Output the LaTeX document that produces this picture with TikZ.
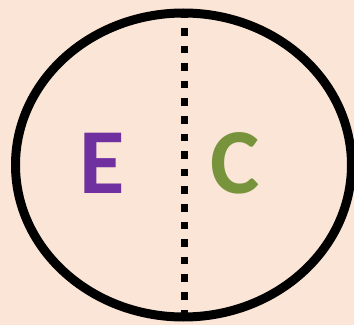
\documentclass[tikz,border=0pt]{standalone}
\usepackage{fontspec}
\setmainfont{Carlito}
\usepackage{xcolor}
\usepackage{tikz}
\definecolor{peachbg}{HTML}{FBE5D6}
\definecolor{letterpurple}{HTML}{7030A0}
\definecolor{lettergreen}{HTML}{77933C}

\begin{document}
\begin{tikzpicture}[x=1pt, y=1pt]
    \fill[peachbg] (0,0) rectangle (354,325);
    \useasboundingbox (0,0) rectangle (354,325);
    \draw[line width=9pt] (183.5,160) ellipse [x radius=168, y radius=152];
    \coordinate (top) at (184.5,314.6);
    \coordinate (bottom) at (184.5,0);
    \draw[line width=7.5pt, dash pattern=on 7.6pt off 10pt] (top) -- (bottom);
    \node[anchor=base, inner sep=0pt, font=\fontsize{93}{93}\selectfont\bfseries\color{letterpurple}] (e) at (102,132) {E};
    \node[anchor=base, inner sep=0pt, font=\fontsize{93}{93}\selectfont\bfseries\color{lettergreen}] (c) at (235,132) {C};
\end{tikzpicture}
\end{document}
